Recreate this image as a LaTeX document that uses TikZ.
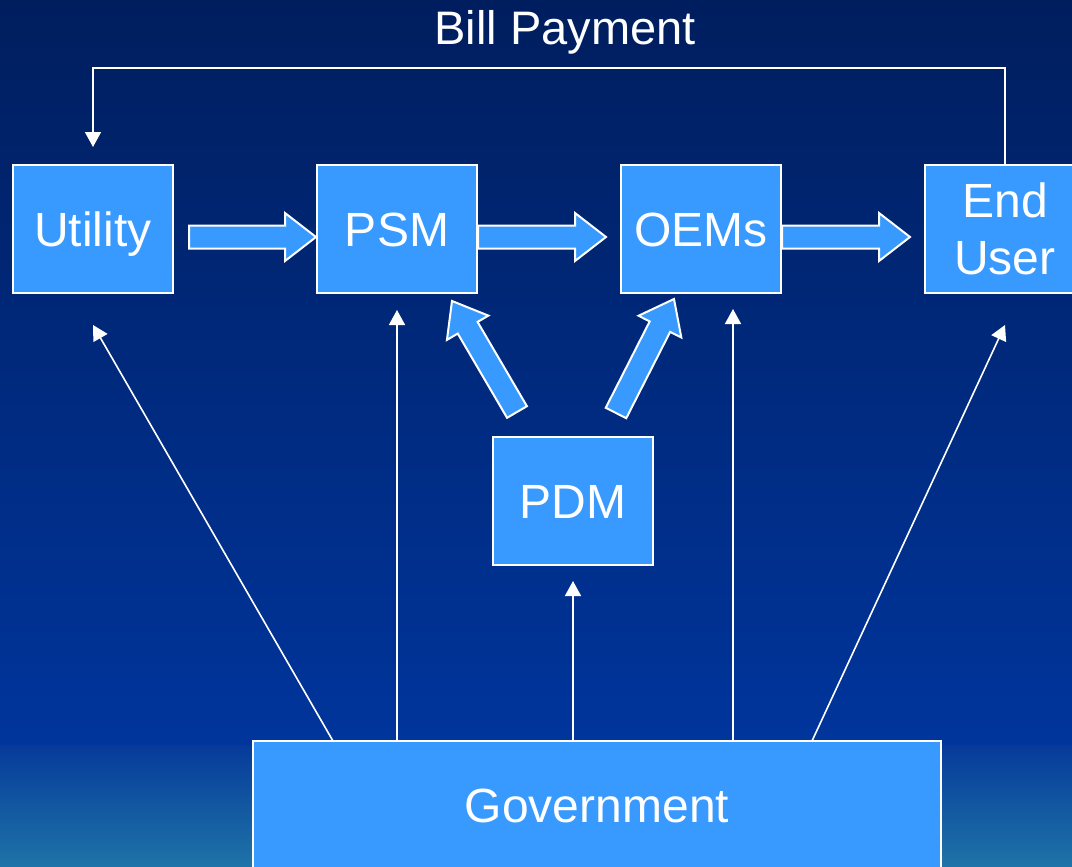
\documentclass[tikz,border=0pt]{standalone}
\usepackage{fontspec}
\setmainfont{Liberation Sans}
\usetikzlibrary{calc,arrows.meta}

\definecolor{bgtop}{RGB}{0,30,94}
\definecolor{bgmid}{RGB}{0,53,156}
\definecolor{bandtop}{RGB}{6,58,154}
\definecolor{bandbot}{RGB}{30,116,168}
\definecolor{boxblue}{RGB}{56,153,255}

\tikzset{
  stage/.style={draw=white, line width=2pt, fill=boxblue, text=white,
    font=\fontsize{48}{57}\selectfont, minimum width=160pt, minimum height=128pt,
    inner sep=0pt, text height=35pt, text depth=0pt},
  thinarrow/.style={draw=white, line width=1.6pt, -{Triangle[length=15pt,width=16pt]}},
  fatarrow/.style={draw=white, line width=2pt, fill=boxblue, line join=miter},
  title/.style={text=white, font=\fontsize{47}{56}\selectfont, inner sep=0pt},
}

% block arrow from tail #1 to tip #2: shaft 23 wide, head 48 wide and 31 long
\newcommand\flowarrow[2]{%
  \path ($(#2)!31pt!(#1)$) coordinate (fa-base);
  \draw[fatarrow] ($(#1)!11.5pt!90:(#2)$) -- ($(fa-base)!11.5pt!90:(#2)$)
    -- ($(fa-base)!24pt!90:(#2)$) -- (#2) -- ($(fa-base)!24pt!-90:(#2)$)
    -- ($(fa-base)!11.5pt!-90:(#2)$) -- ($(#1)!11.5pt!-90:(#2)$) -- cycle;}

\begin{document}
\begin{tikzpicture}[x=1pt, y=-1pt]
  \useasboundingbox (0,0) rectangle (1072,867);
  % background
  \shade[top color=bgtop, bottom color=bgmid] (0,0) rectangle (1072,745);
  \shade[top color=bandtop, bottom color=bandbot] (0,745) rectangle (1072,867);

  % stages
  \node[stage] (utility) at (93,229) {Utility};
  \node[stage] (psm) at (397,229) {PSM};
  \node[stage] (oems) at (701,229) {OEMs};
  \node[stage, align=center, text height=90pt] (enduser) at (1005,229) {End\\User};
  \node[stage] (pdm) at (573,501) {PDM};
  \node[stage, minimum width=688pt] (gov) at (597,805) {Government};

  \node[title, anchor=base] (bill) at (565,45) {Bill Payment};

  % payment loop back to the utility
  \coordinate (loop-r) at (1005,68);
  \coordinate (loop-l) at (93,68);
  \coordinate (util-top) at ($(utility.north)+(0,-17)$);
  \draw[thinarrow] (enduser.north) -- (loop-r) -- (loop-l) -- (util-top);

  % block arrows along the chain
  \coordinate (u-out) at (189,237);  \coordinate (p-in) at (316,237);
  \coordinate (p-out) at (478,237);  \coordinate (o-in) at (606,237);
  \coordinate (o-out) at (782,237);  \coordinate (e-in) at (910,237);
  \coordinate (d-out1) at (517,412); \coordinate (p-in2) at (452,301);
  \coordinate (d-out2) at (616,413); \coordinate (o-in2) at (674,299);
  \flowarrow{u-out}{p-in}
  \flowarrow{p-out}{o-in}
  \flowarrow{o-out}{e-in}
  \flowarrow{d-out1}{p-in2}
  \flowarrow{d-out2}{o-in2}

  % regulation from the government
  \coordinate (g1) at (333,741);
  \coordinate (g2) at (397,741);
  \coordinate (g3) at (573,741);
  \coordinate (g4) at (733,741);
  \coordinate (g5) at (812,741);
  \coordinate (t1) at (93,325);
  \coordinate (t2) at (397,310);
  \coordinate (t3) at (573,581);
  \coordinate (t4) at (733,309);
  \coordinate (t5) at (1005,325);
  \draw[thinarrow] (g1) -- (t1);
  \draw[thinarrow] (g2) -- (t2);
  \draw[thinarrow] (g3) -- (t3);
  \draw[thinarrow] (g4) -- (t4);
  \draw[thinarrow] (g5) -- (t5);
\end{tikzpicture}
\end{document}
